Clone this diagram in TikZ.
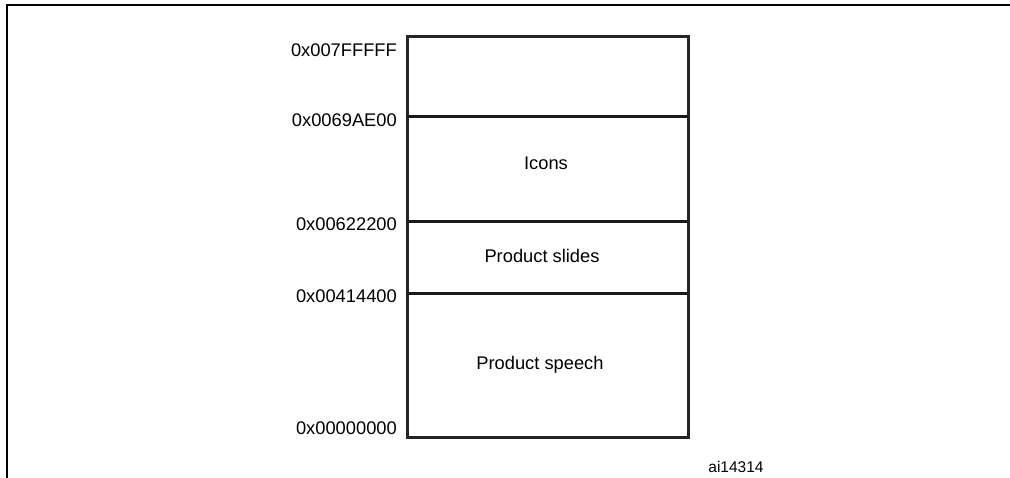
\documentclass[tikz,border=0pt]{standalone}
\usepackage{fontspec}
\setmainfont{Liberation Sans}
\begin{document}
\begin{tikzpicture}[x=1pt,y=-1pt,
  addr/.style={anchor=base east,inner sep=0pt,font=\fontsize{18.3}{21}\selectfont},
  lbl/.style={anchor=base,inner sep=0pt,font=\fontsize{18.3}{21}\selectfont},
  mem/.style={line width=3pt,draw=black!85},
  sep/.style={line width=3pt,draw=black!90}]
\useasboundingbox (0,0) rectangle (1010,478);
\draw[line width=2.2pt] (7,478) -- (7,5.3) -- (1012,5.3);
\coordinate (tl) at (407,37);
\coordinate (br) at (688,437);
\draw[mem] (tl) rectangle (br);
\coordinate (a1) at (407,117); \coordinate (b1) at (688,117);
\coordinate (a2) at (407,222); \coordinate (b2) at (688,222);
\coordinate (a3) at (407,294); \coordinate (b3) at (688,294);
\draw[sep] (a1) -- (b1);
\draw[sep] (a2) -- (b2);
\draw[sep] (a3) -- (b3);
\node[addr] (l0) at (397,57) {0x007FFFFF};
\node[addr] (l1) at (397,127) {0x0069AE00};
\node[addr] (l2) at (397,231) {0x00622200};
\node[addr] (l3) at (397,303) {0x00414400};
\node[addr] (l4) at (397,435) {0x00000000};
\node[lbl] (icons) at (546,170) {Icons};
\node[lbl] (slides) at (542,263) {Product slides};
\node[lbl] (speech) at (540,370) {Product speech};
\node[anchor=base,inner sep=0pt,font=\fontsize{15.5}{18}\selectfont] (id) at (736,472) {ai14314};
\end{tikzpicture}
\end{document}
